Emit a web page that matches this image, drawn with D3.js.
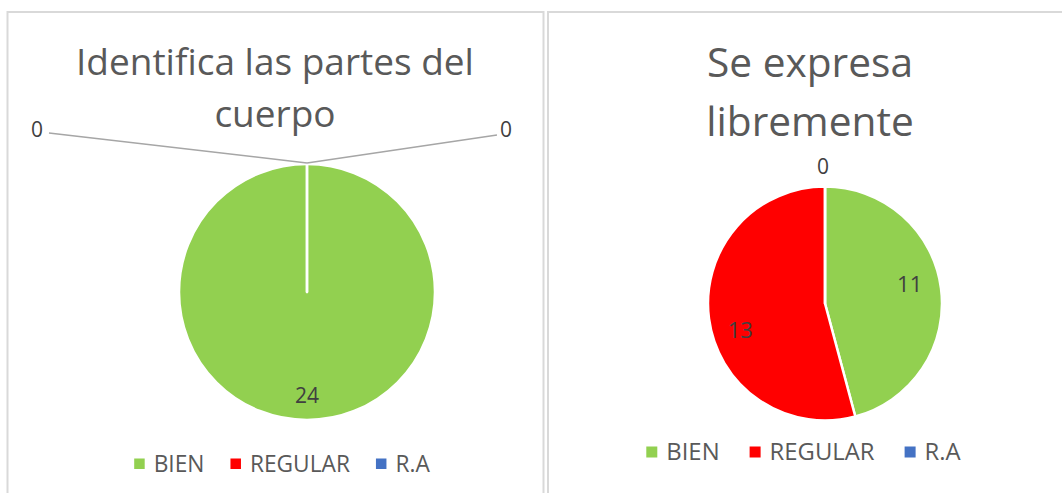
<!DOCTYPE html>
<html>
<head>
<meta charset="utf-8">
<script src="https://cdn.jsdelivr.net/npm/d3@7"></script>
<style>
  body { margin: 0; background: #fff; }
  svg { display: block; font-family: "Open Sans", "Noto Sans", sans-serif; }
</style>
</head>
<body>
<svg id="chart" width="1062" height="493"></svg>
<script>
// data
const categories = ["BIEN", "REGULAR", "R.A"];
const sliceColors = ["#92D050", "#FF0000", "#4472C4"];
const partesTitle = ["Identifica las partes del", "cuerpo"];
const partesValues = [24, 0, 0];
const expresaTitle = ["Se expresa", "libremente"];
const expresaValues = [11, 13, 0];

const svg = d3.select("#chart");

const color = d3.scaleOrdinal().domain(categories).range(sliceColors);

// fit a text node to a target width by scaling its font size
function fitText(sel, target) {
  const w = sel.node().getComputedTextLength();
  const fs = parseFloat(sel.attr("font-size"));
  sel.attr("font-size", fs * target / w);
  return fs * target / w;
}

const panels = [
  {
    title: partesTitle, values: partesValues,
    frame: { x: 7.5, y: 12, w: 536 },
    titleX: 275, titleBase: [75, 127], titleW: 398,
    cx: 307, cy: 292, r: 128, labelK: 0.81, labelSize: 21,
    legendX: 282, legendY: 472, legendW: 100, legendGap: 26, sq: 10.5,
    zeroLabels: "leader"
  },
  {
    title: expresaTitle, values: expresaValues,
    frame: { x: 548, y: 12, w: 540 },
    titleX: 810, titleBase: [77, 136], titleW: 206,
    cx: 825, cy: 303.5, r: 117, labelK: 0.73, labelSize: 22,
    legendX: 803.5, legendY: 460, legendW: 105, legendGap: 30, sq: 11,
    zeroLabels: "top"
  }
];

panels.forEach(p => {
  const g = svg.append("g");

  // chart frame
  g.append("rect")
    .attr("x", p.frame.x).attr("y", p.frame.y)
    .attr("width", p.frame.w).attr("height", 520)
    .attr("fill", "#fff")
    .attr("stroke", "#d9d9d9")
    .attr("stroke-width", 2);

  // title
  let titleSize = null;
  p.title.forEach((line, i) => {
    const t = g.append("text")
      .attr("x", p.titleX).attr("y", p.titleBase[i])
      .attr("text-anchor", "middle")
      .attr("fill", "#595959")
      .attr("font-size", titleSize || 40)
      .text(line);
    if (i === 0) titleSize = fitText(t, p.titleW);
  });

  const data = categories.map((c, i) => ({ name: c, value: p.values[i] }));
  const pie = d3.pie().sort(null).value(d => d.value);
  const arcs = pie(data);
  const arc = d3.arc().innerRadius(0).outerRadius(p.r);
  const labelArc = d3.arc().innerRadius(p.r * p.labelK).outerRadius(p.r * p.labelK);

  const pg = g.append("g").attr("transform", `translate(${p.cx},${p.cy})`);

  pg.selectAll("path")
    .data(arcs)
    .join("path")
    .attr("d", arc)
    .attr("fill", d => color(d.data.name))
    .attr("stroke", "#fff")
    .attr("stroke-width", 2.5)
    .attr("stroke-linejoin", "round");

  // non-zero value labels (nudged a little toward the bottom half, like best fit)
  pg.selectAll("text.val")
    .data(arcs.filter(d => d.data.value > 0))
    .join("text")
    .attr("class", "val")
    .attr("transform", d => {
      const [x, y] = labelArc.centroid(d);
      const dy = x > 1 ? -8 : (x < -1 ? 16 : 0);
      return `translate(${x},${y + dy})`;
    })
    .attr("text-anchor", "middle")
    .attr("dy", "0.35em")
    .attr("fill", "#404040")
    .attr("font-size", p.labelSize)
    .text(d => d.value);

  // zero value labels
  const zeros = arcs.filter(d => d.data.value === 0);
  if (p.zeroLabels === "leader") {
    const spots = [{ x: -270, y: -162, lx: -258, ly: -159 }, { x: 199, y: -162, lx: 190, ly: -157 }];
    zeros.forEach((d, i) => {
      const s = spots[i % spots.length];
      const top = [0, -p.r - 1];
      pg.append("polyline")
        .attr("points", `${s.lx},${s.ly} ${top[0]},${top[1]}`)
        .attr("fill", "none")
        .attr("stroke", "#a6a6a6")
        .attr("stroke-width", 1.5);
      pg.append("text")
        .attr("x", s.x).attr("y", s.y)
        .attr("text-anchor", "middle")
        .attr("dy", "0.35em")
        .attr("fill", "#404040")
        .attr("font-size", 21)
        .text(d.data.value);
    });
  } else {
    zeros.forEach(d => {
      pg.append("text")
        .attr("x", -2).attr("y", -p.r - 20)
        .attr("text-anchor", "middle")
        .attr("dy", "0.35em")
        .attr("fill", "#404040")
        .attr("font-size", 21)
        .text(d.data.value);
    });
  }

  // legend
  const lg = g.append("g");
  const items = categories.map(c => {
    const t = lg.append("text")
      .attr("y", p.legendY)
      .attr("fill", "#595959")
      .attr("font-size", 22)
      .text(c);
    return { name: c, t };
  });
  const regular = items[1].t;
  const legendSize = fitText(regular, p.legendW);
  items.forEach(it => it.t.attr("font-size", legendSize));
  const gap = 9;
  const widths = items.map(it => p.sq + gap + it.t.node().getComputedTextLength());
  const total = d3.sum(widths) + p.legendGap * (items.length - 1);
  let x = p.legendX - total / 2;
  items.forEach((it, i) => {
    lg.append("rect")
      .attr("x", x).attr("y", p.legendY - 13.5)
      .attr("width", p.sq).attr("height", p.sq)
      .attr("fill", color(it.name));
    it.t.attr("x", x + p.sq + gap);
    x += widths[i] + p.legendGap;
  });
});
</script>
</body>
</html>
